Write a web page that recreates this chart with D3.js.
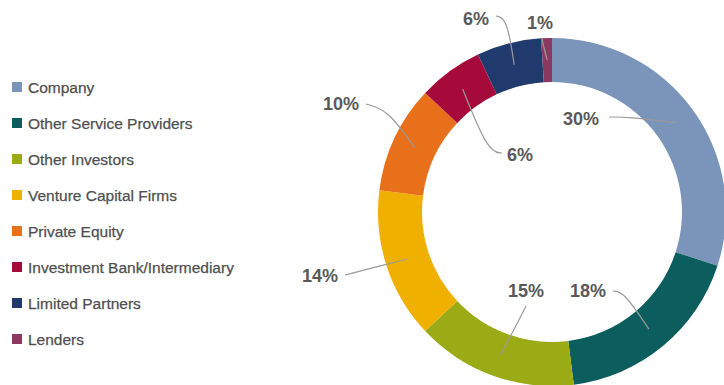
<!DOCTYPE html>
<html>
<head>
<meta charset="utf-8">
<script src="https://cdn.jsdelivr.net/npm/d3@7"></script>
<style>
  body { margin: 0; background: #fff; }
  svg { display: block; }
</style>
</head>
<body>
<div id="chart"></div>
<script>
// data
var categories = ["Company", "Other Service Providers", "Other Investors", "Venture Capital Firms",
                  "Private Equity", "Investment Bank/Intermediary", "Limited Partners", "Lenders"];
var shares = [30, 18, 15, 14, 10, 6, 6, 1];
var colors = ["#7a95b9", "#0c5d5e", "#9bab16", "#f0b000", "#e8701a", "#a60a3b", "#213a6d", "#8a3a60"];

// where each percent label sits (text start, baseline) and the bend of its leader
var labelPos = [
  {x: 563, y: 125, bend: [628, 117], end: [609, 117]},
  {x: 570, y: 297, bend: [624, 292], end: [613, 291]},
  {x: 508, y: 297, bend: [520, 318], end: [526, 306]},
  {x: 302, y: 282, bend: [372, 268], end: [345, 275]},
  {x: 323, y: 110, bend: [388, 110], end: [366, 104]},
  {x: 507, y: 161, bend: [488, 152], end: [502, 153]},
  {x: 463, y: 25,  bend: [507, 18],  end: [496, 16]},
  {x: 527, y: 29,  bend: [544, 48],  end: [542, 39]}
];

var width = 724, height = 385;
var cx = 552, cy = 212;
var outerR = 174, innerR = 130;

var svg = d3.select("#chart").append("svg")
  .attr("width", width)
  .attr("height", height);

var pie = d3.pie().sort(null).value(function(d){ return d; });
var arc = d3.arc().innerRadius(innerR).outerRadius(outerR);
var arcs = pie(shares);

var g = svg.append("g").attr("transform", "translate(" + cx + "," + cy + ")");

g.selectAll("path.slice")
  .data(arcs)
  .enter().append("path")
  .attr("class", "slice")
  .attr("d", arc)
  .attr("fill", function(d, i){ return colors[i]; });

// leader lines from the middle of each slice out to its label
var line = d3.line().curve(d3.curveBasis);
svg.append("g").selectAll("path.leader")
  .data(arcs)
  .enter().append("path")
  .attr("class", "leader")
  .attr("d", function(d, i){
    var c = arc.centroid(d);
    var p = labelPos[i];
    return line([[cx + c[0], cy + c[1]], p.bend, p.end]);
  })
  .attr("fill", "none")
  .attr("stroke", "#9a9a9a")
  .attr("stroke-width", 1.2);

svg.append("g").selectAll("text.pct")
  .data(arcs)
  .enter().append("text")
  .attr("class", "pct")
  .attr("x", function(d, i){ return labelPos[i].x; })
  .attr("y", function(d, i){ return labelPos[i].y; })
  .attr("font-family", "'Liberation Sans', Arial, sans-serif")
  .attr("font-size", 18)
  .attr("font-weight", "bold")
  .attr("fill", "#595959")
  .text(function(d){ return d.data + "%"; });

// legend
var legendY = d3.scalePoint().domain(categories).range([87, 339]);
var legend = svg.append("g").selectAll("g.item")
  .data(categories)
  .enter().append("g")
  .attr("class", "item")
  .attr("transform", function(d){ return "translate(0," + legendY(d) + ")"; });

legend.append("rect")
  .attr("x", 12).attr("y", -5)
  .attr("width", 10).attr("height", 10)
  .attr("fill", function(d, i){ return colors[i]; });

legend.append("text")
  .attr("x", 28).attr("y", 5.5)
  .attr("font-family", "'Liberation Sans', Arial, sans-serif")
  .attr("font-size", 15.5)
  .attr("fill", "#4f4f4f")
  .attr("stroke", "#4f4f4f")
  .attr("stroke-width", 0.25)
  .text(function(d){ return d; });
</script>
</body>
</html>
